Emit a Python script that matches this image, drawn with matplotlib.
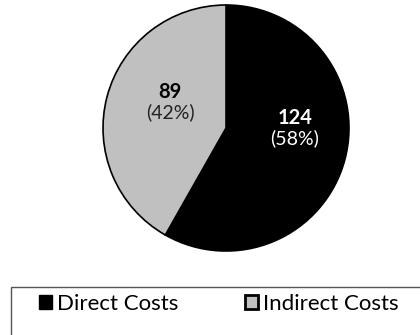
import numpy as np
import matplotlib
matplotlib.use('Agg')
import matplotlib.pyplot as plt
from matplotlib.patches import Rectangle, Patch

# data
categories = ['Direct Costs', 'Indirect Costs']
values = [124, 89]
colors = ['#000000', '#c0c0c0']
value_colors = ['white', 'black']
pct_colors = ['white', '#222222']
# label spots (fraction of radius) for each slice
label_pos = [(0.56, 0.0), (-0.455, 0.21)]

plt.rcParams['font.family'] = ['Lato', 'DejaVu Sans']

fig = plt.figure(figsize=(4.2, 3.35), dpi=100)
ax = fig.add_axes([103 / 420, 84 / 335, 246 / 420, 246 / 335])

wedges, _ = ax.pie(values, colors=colors, startangle=90, counterclock=False,
                   wedgeprops=dict(edgecolor='black', linewidth=1.2))
ax.set_xlim(-1.0, 1.0)
ax.set_ylim(-1.0, 1.0)
ax.set_aspect('equal')
ax.axis('off')

total = sum(values)
for v, (lx, ly), vc, pc in zip(values, label_pos, value_colors, pct_colors):
    ax.text(lx, ly + 0.085, f'{v}', ha='center', va='center', fontsize=14.5,
            fontweight='bold', color=vc)
    ax.text(lx, ly - 0.085, f'({v / total:.0%})', ha='center', va='center',
            fontsize=14, color=pc)

# legend box running off the right and bottom edges
fig.patches.append(Rectangle((11 / 420, -0.1), 1.0, 0.1 + 48 / 335,
                             transform=fig.transFigure, fill=False,
                             edgecolor='#555555', linewidth=1.0))
handles = [Patch(facecolor=c, edgecolor='black', linewidth=1.0 + i)
           for i, c in enumerate(colors)]
fig.legend(handles, categories, loc='center left', bbox_to_anchor=(39 / 420, 31 / 335),
           ncol=2, frameon=False, fontsize=16, handlelength=0.6, handleheight=0.6,
           handletextpad=0.2, columnspacing=3.0, borderaxespad=0, borderpad=0)

fig.savefig('out.png', dpi=100)
